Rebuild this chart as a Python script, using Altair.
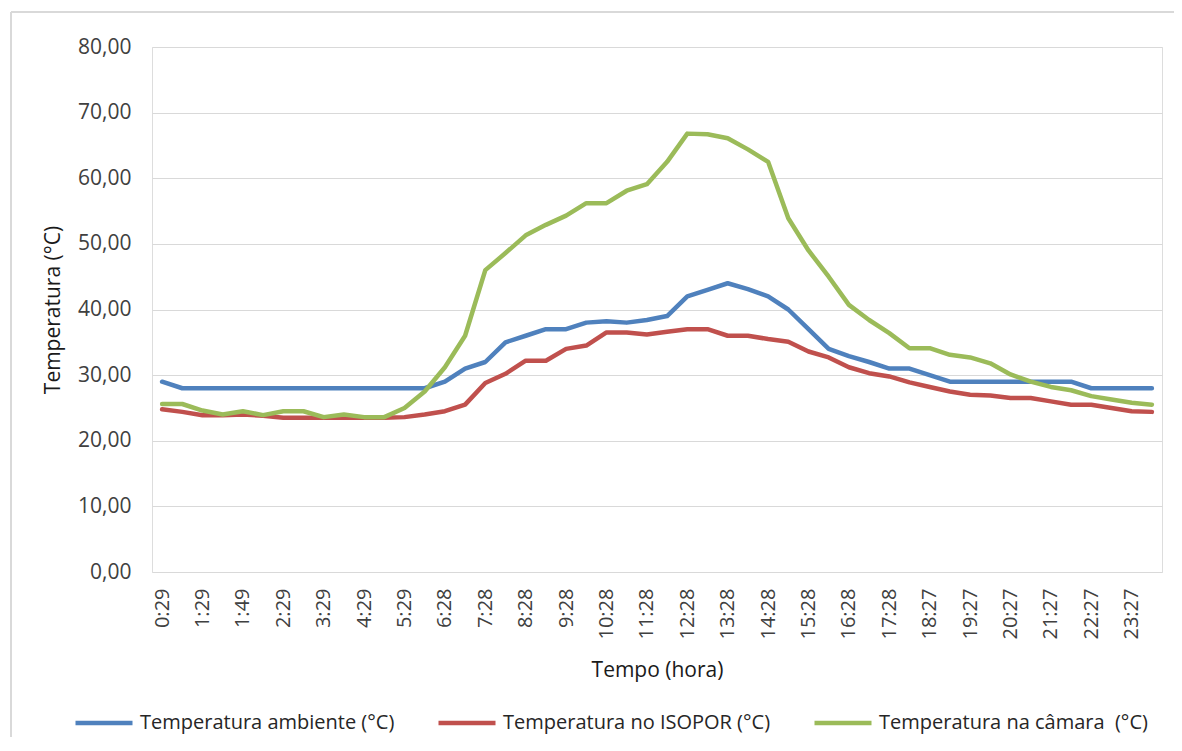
import altair as alt
import pandas as pd

times = [
    "0:29", "0:59", "1:29", "1:39", "1:49", "1:59", "2:29", "2:59", "3:29", "3:59",
    "4:29", "4:59", "5:29", "5:58", "6:28", "6:58", "7:28", "7:58", "8:28", "8:58",
    "9:28", "9:58", "10:28", "10:58", "11:28", "11:58", "12:28", "12:58", "13:28", "13:58",
    "14:28", "14:58", "15:28", "15:58", "16:28", "16:58", "17:28", "17:57", "18:27", "18:57",
    "19:27", "19:57", "20:27", "20:57", "21:27", "21:57", "22:27", "22:57", "23:27", "23:57",
]
label_times = times[0:49:2]

ambiente = [
    29.0, 28.0, 28.0, 28.0, 28.0, 28.0, 28.0, 28.0, 28.0, 28.0,
    28.0, 28.0, 28.0, 28.0, 29.0, 31.0, 32.0, 35.0, 36.0, 37.0,
    37.0, 38.0, 38.2, 38.0, 38.4, 39.0, 42.0, 43.0, 44.0, 43.1,
    42.0, 40.0, 37.0, 34.0, 32.9, 32.0, 31.0, 31.0, 30.0, 29.0,
    29.0, 29.0, 29.0, 29.0, 29.0, 29.0, 28.0, 28.0, 28.0, 28.0,
]
isopor = [
    24.8, 24.4, 23.9, 23.9, 24.0, 23.8, 23.5, 23.5, 23.5, 23.5,
    23.5, 23.5, 23.6, 24.0, 24.5, 25.5, 28.8, 30.2, 32.2, 32.2,
    34.0, 34.5, 36.5, 36.5, 36.2, 36.6, 37.0, 37.0, 36.0, 36.0,
    35.5, 35.1, 33.6, 32.7, 31.2, 30.3, 29.8, 28.9, 28.2, 27.5,
    27.0, 26.9, 26.5, 26.5, 26.0, 25.5, 25.5, 25.0, 24.5, 24.4,
]
camara = [
    25.6, 25.6, 24.6, 24.0, 24.5, 23.9, 24.5, 24.5, 23.6, 24.0,
    23.6, 23.6, 25.0, 27.5, 31.2, 36.0, 46.0, 48.6, 51.3, 52.9,
    54.3, 56.2, 56.2, 58.1, 59.1, 62.5, 66.8, 66.7, 66.1, 64.4,
    62.5, 53.9, 49.0, 45.0, 40.7, 38.4, 36.4, 34.1, 34.1, 33.1,
    32.7, 31.8, 30.1, 29.0, 28.2, 27.7, 26.8, 26.3, 25.8, 25.5,
]

series_names = [
    "Temperatura ambiente (°C)",
    "Temperatura no ISOPOR (°C)",
    "Temperatura na câmara \u00a0(°C)",
]
series_colors = ["#4F81BD", "#C0504D", "#9BBB59"]
y_ticks = [0, 10, 20, 30, 40, 50, 60, 70, 80]

rows = []
for name, vals in zip(series_names, [ambiente, isopor, camara]):
    for t, v in zip(times, vals):
        rows.append({"Tempo": t, "Serie": name, "Temp": v})
df = pd.DataFrame(rows)

FONT = "Open Sans"
W, H = 1010, 525

lines = alt.Chart(df).mark_line(strokeWidth=4.5, strokeJoin="round", strokeCap="round").encode(
    x=alt.X(
        "Tempo:O",
        sort=times,
        scale=alt.Scale(type="point", padding=0.5),
        axis=alt.Axis(
            values=label_times,
            labelAngle=-90,
            labelFont=FONT,
            labelFontSize=20,
            labelColor="#404040",
            labelPadding=16,
            ticks=False,
            tickSize=0,
            domain=False,
            grid=False,
            title="Tempo (hora)",
            titleFont=FONT,
            titleFontSize=21,
            titleFontWeight="normal",
            titleColor="#1a1a1a",
            titleX=W / 2,
            titleY=98,
            titleAlign="center",
            titleBaseline="middle",
        ),
    ),
    y=alt.Y(
        "Temp:Q",
        scale=alt.Scale(domain=[0, 80], nice=False, zero=True),
        axis=alt.Axis(
            values=y_ticks,
            labelExpr="replace(format(datum.value, '.2f'), '.', ',')",
            labelFont=FONT,
            labelFontSize=21,
            labelColor="#404040",
            labelPadding=21,
            ticks=False,
            tickSize=0,
            domain=False,
            grid=True,
            gridColor="#D9D9D9",
            gridWidth=1,
            title="Temperatura (°C)",
            titleFont=FONT,
            titleFontSize=21,
            titleFontWeight="normal",
            titleColor="#1a1a1a",
            titleAngle=-90,
            titleX=-99,
            titleY=H / 2,
            titleAlign="center",
            titleBaseline="middle",
        ),
    ),
    color=alt.Color(
        "Serie:N",
        scale=alt.Scale(domain=series_names, range=series_colors),
        legend=alt.Legend(
            title=None,
            orient="none",
            direction="horizontal",
            legendX=-79,
            legendY=645,
            symbolType="stroke",
            symbolSize=3249,
            symbolStrokeWidth=4.5,
            labelFont=FONT,
            labelFontSize=20,
            labelColor="#262626",
            labelOffset=5,
            columnPadding=34,
            padding=0,
            labelLimit=400,
        ),
    ),
)

frame = alt.Chart(pd.DataFrame({"a": [0]}))
top_line = frame.mark_rule(color="#D9D9D9", strokeWidth=2).encode(
    x=alt.value(-141), x2=alt.value(1030), y=alt.value(-35)
)
left_line = frame.mark_rule(color="#D9D9D9", strokeWidth=2).encode(
    x=alt.value(-141), y=alt.value(-35), y2=alt.value(700)
)

chart = alt.layer(lines, top_line, left_line).properties(
    width=W,
    height=H,
    autosize=alt.AutoSizeParams(type="none"),
    padding={"left": 144, "top": 39, "right": 12, "bottom": 165},
).configure_view(stroke=None).configure(background="white")

chart.save("out.html", embed_options={"renderer": "svg", "actions": False})
